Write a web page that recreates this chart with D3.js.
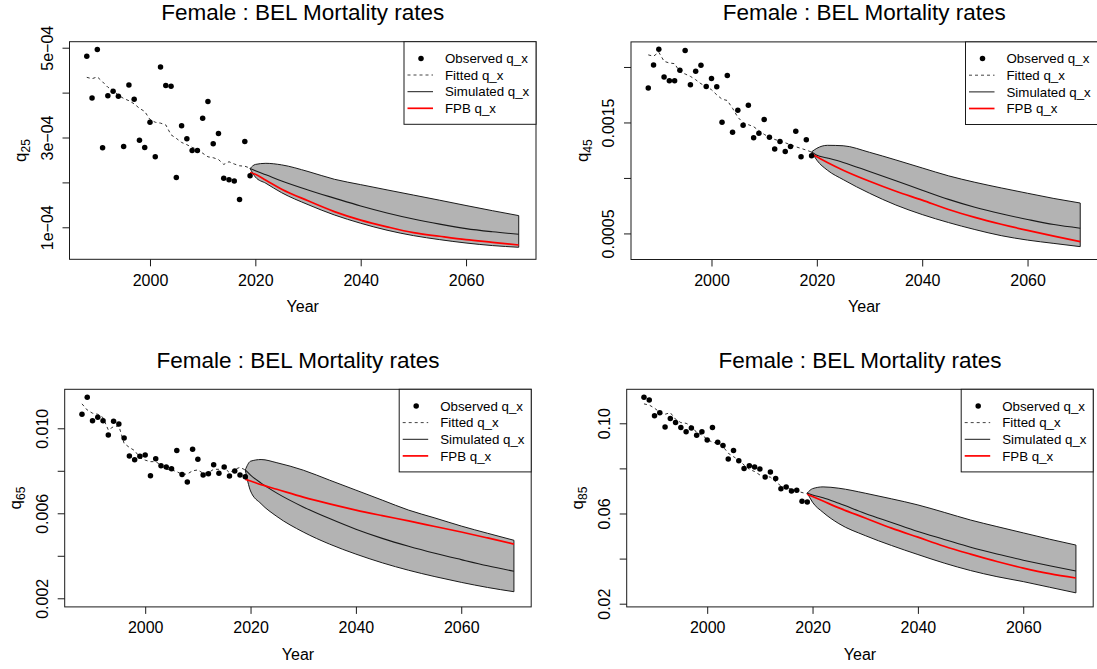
<!DOCTYPE html>
<html><head><meta charset="utf-8">
<script src="https://cdn.jsdelivr.net/npm/d3@7/dist/d3.min.js"></script>
<style>
body{margin:0;background:#fff}
svg{display:block}
text{font-family:"Liberation Sans",Arial,Helvetica,sans-serif;fill:#000}
</style>
</head><body>
<svg id="c" width="1097" height="669"></svg>
<script>
// ---------------- DATA ----------------
const obsYears = [1988,1989,1990,1991,1992,1993,1994,1995,1996,1997,1998,1999,2000,2001,2002,2003,
                  2004,2005,2006,2007,2008,2009,2010,2011,2012,2013,2014,2015,2016,2017,2018,2019];
const projYears = [2019,2020,2022,2025,2030,2035,2040,2045,2050,2055,2060,2065,2070];
const xTicks = [2000,2020,2040,2060];
const xLim = [1984.72,2073.28];
const legendLabels = ["Observed q_x","Fitted q_x","Simulated q_x","FPB q_x"];
const titleText = "Female : BEL Mortality rates";
const xLabel = "Year";

// q25 (values in 1e-4)
const q25Observed = [4.81,3.88,4.96,2.77,3.93,4.03,3.92,2.80,4.17,3.85,2.94,2.78,3.34,2.57,4.57,4.16,
                     4.14,2.11,3.26,2.97,2.71,2.71,3.43,3.80,2.86,3.09,2.09,2.06,2.03,1.62,2.91,2.15];
const q25Fitted   = [4.34,4.31,4.35,4.24,4.12,4.06,3.94,3.87,3.82,3.75,3.65,3.58,3.40,3.34,3.32,3.28,
                     3.06,2.98,2.89,2.84,2.78,2.74,2.65,2.57,2.55,2.51,2.40,2.46,2.41,2.37,2.36,2.32];
const q25Upper = [2.31,2.40,2.425,2.39,2.243,2.07,1.95,1.833,1.718,1.603,1.485,1.37,1.26];
const q25Lower = [2.31,2.12,1.98,1.77,1.505,1.275,1.09,0.935,0.815,0.725,0.65,0.593,0.555];
const q25Sim   = [2.31,2.26,2.17,2.03,1.83,1.65,1.475,1.32,1.185,1.07,0.97,0.90,0.844];
const q25Fpb   = [2.22,2.18,2.05,1.85,1.59,1.35,1.16,1.01,0.88,0.80,0.725,0.665,0.605];
const q25Scale = 1e-4;
const q25YLim = [0.287e-4,5.134e-4];
const q25YTicks = [1e-4,2e-4,3e-4,4e-4,5e-4];
const q25YTickLabels = ["1e\u221204","","3e\u221204","","5e\u221204"];

// q45 (values in 1e-3)
const q45Observed = [1.810,2.018,2.160,1.909,1.876,1.876,1.970,2.148,1.840,1.961,2.015,1.825,1.897,1.822,1.501,1.924,
                     1.411,1.610,1.474,1.656,1.363,1.402,1.526,1.366,1.260,1.329,1.239,1.284,1.420,1.190,1.344,1.199];
const q45Fitted   = [2.109,2.097,2.133,2.051,2.036,2.030,1.955,1.937,1.915,1.885,1.849,1.825,1.795,1.749,1.710,1.698,
                     1.628,1.547,1.498,1.480,1.462,1.426,1.393,1.366,1.347,1.332,1.317,1.299,1.281,1.266,1.251,1.233];
const q45Upper = [1.235,1.267,1.294,1.29,1.231,1.162,1.09,1.019,0.961,0.91,0.862,0.815,0.774];
const q45Lower = [1.235,1.16,1.07,0.985,0.862,0.756,0.67,0.598,0.535,0.48,0.44,0.41,0.381];
const q45Sim   = [1.235,1.205,1.18,1.14,1.058,0.975,0.89,0.807,0.736,0.677,0.626,0.58,0.547];
const q45Fpb   = [1.215,1.19,1.14,1.07,0.97,0.88,0.80,0.716,0.645,0.583,0.527,0.475,0.426];
const q45Scale = 1e-3;
const q45YLim = [0.000265,0.002226];
const q45YTicks = [0.0005,0.001,0.0015,0.002];
const q45YTickLabels = ["0.0005","","0.0015",""];

// q65 (values in 1e-3)
const q65Observed = [10.66,11.46,10.35,10.52,10.35,9.69,10.33,10.20,9.54,8.70,8.52,8.68,8.74,7.77,8.57,8.24,
                     8.18,8.10,8.95,7.83,7.47,9.01,8.54,7.80,7.86,8.29,7.89,8.18,7.75,7.99,7.80,7.72];
const q65Fitted   = [11.15,10.86,10.71,10.66,10.50,9.92,10.08,10.11,9.29,9.10,8.95,8.62,8.50,8.43,8.43,8.27,
                     8.07,8.04,7.96,7.83,7.85,8.00,8.04,7.88,7.91,8.07,8.07,8.15,7.91,8.07,8.16,8.04];
const q65Upper = [8.04,8.45,8.53,8.38,8.03,7.56,7.09,6.62,6.15,5.78,5.40,5.06,4.73];
const q65Lower = [8.04,7.05,6.45,5.85,5.12,4.55,4.08,3.67,3.32,3.02,2.75,2.51,2.31];
const q65Sim   = [8.04,7.80,7.42,6.95,6.30,5.75,5.25,4.82,4.45,4.12,3.82,3.53,3.27];
const q65Fpb   = [7.60,7.52,7.35,7.13,6.76,6.44,6.15,5.89,5.64,5.38,5.12,4.84,4.55];
const q65Scale = 1e-3;
const q65YLim = [0.001595,0.011835];
const q65YTicks = [0.002,0.004,0.006,0.008,0.010];
const q65YTickLabels = ["0.002","","0.006","","0.010"];

// q85 (values in 1e-2)
const q85Observed = [11.15,11.03,10.33,10.47,9.84,10.21,10.04,9.81,9.63,9.79,9.47,9.62,9.26,9.81,9.16,9.02,
                     8.42,8.79,8.34,7.99,8.12,8.06,7.97,7.62,7.84,7.55,7.10,7.18,7.00,7.03,6.54,6.51];
const q85Fitted   = [10.86,10.81,10.67,10.49,10.40,10.47,10.18,10.03,10.00,9.88,9.59,9.48,9.29,9.16,9.11,8.97,
                     8.67,8.52,8.37,8.15,7.96,7.86,7.71,7.66,7.61,7.41,7.22,7.16,7.07,7.00,6.93,6.87];
const q85Upper = [6.91,7.10,7.18,7.12,6.90,6.65,6.38,6.05,5.71,5.42,5.14,4.86,4.60];
const q85Lower = [6.91,6.50,6.05,5.55,5.02,4.58,4.18,3.80,3.47,3.20,2.98,2.73,2.48];
const q85Sim   = [6.91,6.82,6.70,6.45,6.00,5.60,5.20,4.85,4.50,4.20,3.93,3.68,3.45];
const q85Fpb   = [6.85,6.75,6.55,6.25,5.80,5.35,4.95,4.55,4.20,3.87,3.58,3.33,3.14];
const q85Scale = 1e-2;
const q85YLim = [0.01858,0.11507];
const q85YTicks = [0.02,0.04,0.06,0.08,0.10];
const q85YTickLabels = ["0.02","","0.06","","0.10"];

// ---------------- LAYOUT ----------------
const PW = 466.5, PH = 217.6;
const panels = [
  {age:"25", obs:q25Observed, fit:q25Fitted, up:q25Upper, lo:q25Lower, sim:q25Sim, fpb:q25Fpb, k:q25Scale,
   ylim:q25YLim, yt:q25YTicks, ytl:q25YTickLabels, bx:69.5, by:41.7},
  {age:"45", obs:q45Observed, fit:q45Fitted, up:q45Upper, lo:q45Lower, sim:q45Sim, fpb:q45Fpb, k:q45Scale,
   ylim:q45YLim, yt:q45YTicks, ytl:q45YTickLabels, bx:631, by:41.9},
  {age:"65", obs:q65Observed, fit:q65Fitted, up:q65Upper, lo:q65Lower, sim:q65Sim, fpb:q65Fpb, k:q65Scale,
   ylim:q65YLim, yt:q65YTicks, ytl:q65YTickLabels, bx:64.7, by:389.3},
  {age:"85", obs:q85Observed, fit:q85Fitted, up:q85Upper, lo:q85Lower, sim:q85Sim, fpb:q85Fpb, k:q85Scale,
   ylim:q85YLim, yt:q85YTicks, ytl:q85YTickLabels, bx:626.7, by:389.3}
];

const svg = d3.select("#c");
const LINE = "#1a1a1a";

panels.forEach(p => {
  const g = svg.append("g").attr("transform", `translate(${p.bx},${p.by})`);
  const x = d3.scaleLinear().domain(xLim).range([0, PW]);
  const y = d3.scaleLinear().domain(p.ylim).range([PH, 0]);

  // title
  g.append("text").attr("x", PW/2).attr("y", -21.8).attr("text-anchor","middle")
    .style("font-size","22.5px").text(titleText);

  // band
  const proj = projYears.map((yr,i)=>({yr, up:p.up[i]*p.k, lo:p.lo[i]*p.k, sim:p.sim[i]*p.k, fpb:p.fpb[i]*p.k}));
  const area = d3.area().x(d=>x(d.yr)).y0(d=>y(d.lo)).y1(d=>y(d.up)).curve(d3.curveMonotoneX);
  g.append("path").datum(proj).attr("d", area).attr("fill","#b3b3b3").attr("stroke",LINE).attr("stroke-width",1);

  // fitted (dashed)
  const obs = obsYears.map((yr,i)=>({yr, o:p.obs[i]*p.k, f:p.fit[i]*p.k}));
  g.append("path").datum(obs)
    .attr("d", d3.line().x(d=>x(d.yr)).y(d=>y(d.f)))
    .attr("fill","none").attr("stroke","#333").attr("stroke-width",1).attr("stroke-dasharray","3,3");

  // simulated
  g.append("path").datum(proj)
    .attr("d", d3.line().x(d=>x(d.yr)).y(d=>y(d.sim)).curve(d3.curveMonotoneX))
    .attr("fill","none").attr("stroke",LINE).attr("stroke-width",1.1);
  // fpb
  g.append("path").datum(proj)
    .attr("d", d3.line().x(d=>x(d.yr)).y(d=>y(d.fpb)).curve(d3.curveMonotoneX))
    .attr("fill","none").attr("stroke","#ff0000").attr("stroke-width",1.7);

  // observed points
  g.selectAll("circle.obs").data(obs).enter().append("circle")
    .attr("cx", d=>x(d.yr)).attr("cy", d=>y(d.o)).attr("r",2.75).attr("fill","#000");

  // box
  g.append("rect").attr("x",0).attr("y",0).attr("width",PW).attr("height",PH)
    .attr("fill","none").attr("stroke",LINE).attr("stroke-width",1);

  // x axis
  const xa = g.append("g").attr("transform",`translate(0,${PH})`)
    .call(d3.axisBottom(x).tickValues(xTicks).tickFormat(d3.format("d")).tickSize(7).tickSizeOuter(0).tickPadding(8));
  xa.select(".domain").remove();
  xa.selectAll("line").attr("stroke",LINE);
  xa.selectAll("text").style("font-size","16px").attr("fill","#000");

  // y axis
  const ya = g.append("g")
    .call(d3.axisLeft(y).tickValues(p.yt).tickFormat((d,i)=>p.ytl[i]).tickSize(7).tickSizeOuter(0));
  ya.select(".domain").remove();
  ya.selectAll("line").attr("stroke",LINE);
  ya.selectAll("text").attr("x",null).attr("dy",null).attr("y",0)
    .attr("text-anchor","middle")
    .attr("transform","translate(-16.8,0) rotate(-90)")
    .style("font-size","16px").attr("fill","#000");

  // axis titles
  g.append("text").attr("x",PW/2).attr("y",PH+53).attr("text-anchor","middle")
    .style("font-size","16px").text(xLabel);
  const yt = g.append("text").attr("text-anchor","middle")
    .attr("transform",`translate(${-43.3},${PH/2}) rotate(-90)`).style("font-size","17px");
  yt.append("tspan").text("q");
  yt.append("tspan").attr("dy",4).style("font-size","12px").text(p.age);

  // legend
  const LW = 132, LH = 82.6, lx = PW - LW;
  const lg = g.append("g").attr("transform",`translate(${lx},0)`);
  lg.append("rect").attr("width",LW).attr("height",LH).attr("fill","#fff").attr("stroke",LINE).attr("stroke-width",1);
  const rows = [16.7,33.3,50,66.6];
  legendLabels.forEach((lab,i)=>{
    const ry = rows[i];
    if (i===0) lg.append("circle").attr("cx",17).attr("cy",ry).attr("r",2.75).attr("fill","#000");
    else lg.append("line").attr("x1",3.5).attr("x2",29).attr("y1",ry).attr("y2",ry)
      .attr("stroke", i===3 ? "#ff0000" : (i===1 ? "#444" : LINE))
      .attr("stroke-width", i===3 ? 1.7 : 1)
      .attr("stroke-dasharray", i===1 ? "3,3" : null);
    lg.append("text").attr("x",41).attr("y",ry).attr("dy","0.36em").style("font-size","13.3px").text(lab);
  });
});
</script>
</body></html>
